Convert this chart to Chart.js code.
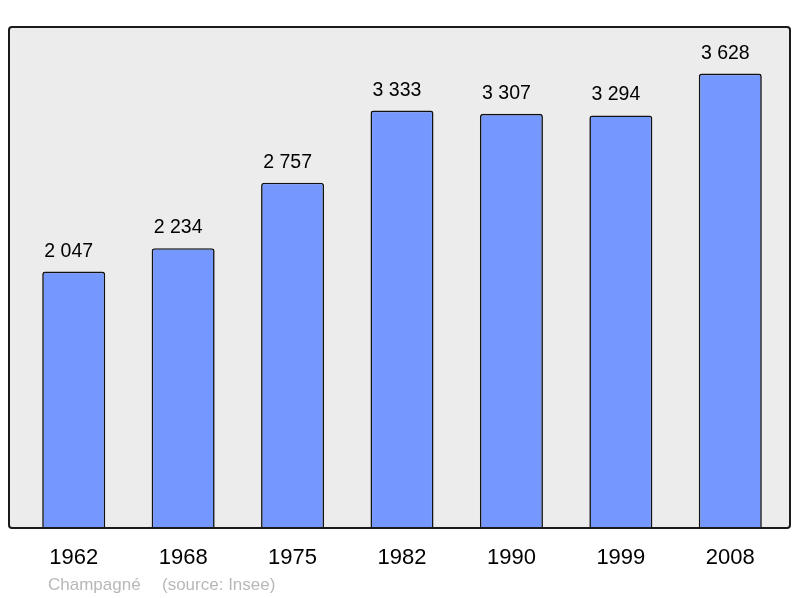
<!DOCTYPE html>
<html>
<head>
<meta charset="utf-8">
<script src="https://cdn.jsdelivr.net/npm/chart.js@4/dist/chart.umd.min.js"></script>
<style>
  html, body { margin: 0; padding: 0; background: #ffffff; }
  #wrap { width: 800px; height: 598px; position: relative; }
</style>
</head>
<body>
<div id="wrap"><canvas id="myChart" width="800" height="598"></canvas></div>
<script>
const years = ["1962", "1968", "1975", "1982", "1990", "1999", "2008"];
const population = [2047, 2234, 2757, 3333, 3307, 3294, 3628];
const commune = "Champagné";
const source = "(source: Insee)";

const fontName = "'Liberation Sans', Arial, sans-serif";

// format like "2 047"
function frNumber(n) {
  return String(n).replace(/\B(?=(\d{3})+(?!\d))/g, " ");
}

// gray frame behind the bars
const framePlugin = {
  id: "frame",
  beforeDatasetsDraw(chart) {
    const { ctx, chartArea } = chart;
    const left = chartArea.left - 10;
    const right = chartArea.right + 5;
    ctx.save();
    ctx.beginPath();
    ctx.roundRect(left, chartArea.top, right - left, chartArea.bottom - chartArea.top, 3);
    ctx.fillStyle = "#ececec";
    ctx.fill();
    ctx.restore();
  },
  afterDatasetsDraw(chart) {
    const { ctx, chartArea } = chart;
    const left = chartArea.left - 10;
    const right = chartArea.right + 5;
    ctx.save();
    ctx.beginPath();
    ctx.roundRect(left, chartArea.top, right - left, chartArea.bottom - chartArea.top, 3);
    ctx.lineWidth = 2;
    ctx.strokeStyle = "#1a1a1a";
    ctx.stroke();
    ctx.restore();
  },
};

// value labels, year labels and caption
const labelPlugin = {
  id: "labels",
  afterDraw(chart) {
    const { ctx, scales } = chart;
    const x = scales.x;
    const y = scales.y;
    ctx.save();
    ctx.fillStyle = "#000000";
    ctx.textAlign = "center";
    ctx.textBaseline = "alphabetic";
    ctx.font = "19.5px " + fontName;
    population.forEach((v, i) => {
      ctx.fillText(frNumber(v), x.getPixelForValue(i) - 5, y.getPixelForValue(v) - 15);
    });
    ctx.font = "22px " + fontName;
    years.forEach((yr, i) => {
      ctx.fillText(yr, x.getPixelForValue(i), 564);
    });
    ctx.fillStyle = "#b8b8b8";
    ctx.textAlign = "left";
    ctx.font = "17px " + fontName;
    ctx.fillText(commune, 48, 590);
    ctx.fillText(source, 162, 590);
    ctx.restore();
  },
};

new Chart(document.getElementById("myChart").getContext("2d"), {
  type: "bar",
  data: {
    labels: years,
    datasets: [
      {
        data: population,
        backgroundColor: "#7498ff",
        borderColor: "#111111",
        borderWidth: 1.6,
        borderSkipped: "bottom",
        borderRadius: 3,
        categoryPercentage: 1,
        barPercentage: 0.576,
      },
    ],
  },
  options: {
    responsive: false,
    animation: false,
    devicePixelRatio: 1,
    layout: { padding: { left: 19, right: 15, top: 27, bottom: 70 } },
    plugins: { legend: { display: false }, tooltip: { enabled: false } },
    scales: {
      x: { display: false },
      y: { display: false, min: 0, max: 4000 },
    },
  },
  plugins: [framePlugin, labelPlugin],
});
</script>
</body>
</html>
